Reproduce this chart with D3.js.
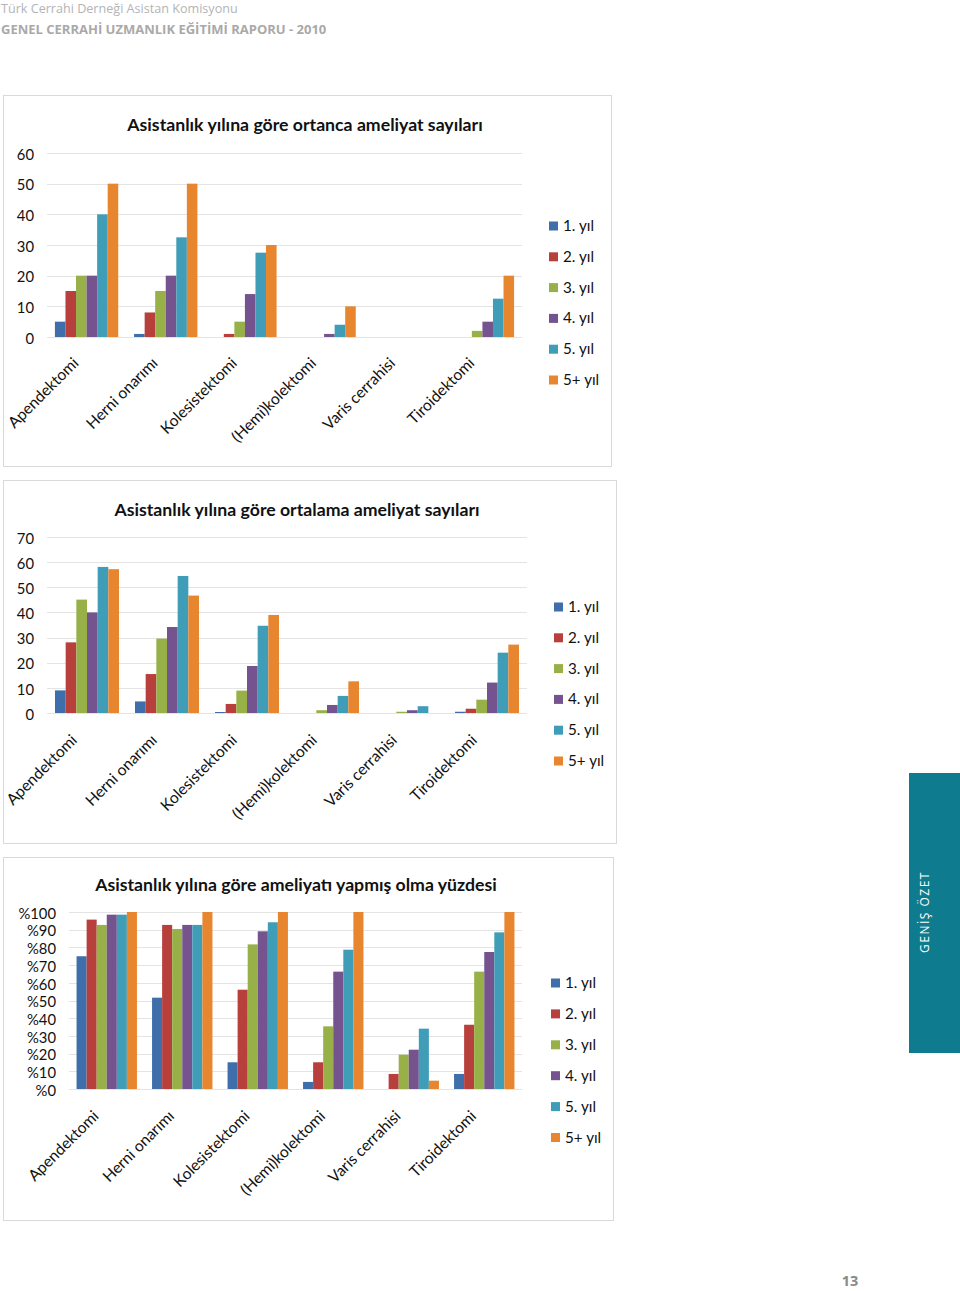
<!DOCTYPE html>
<html><head><meta charset="utf-8">
<script src="https://cdn.jsdelivr.net/npm/d3@7"></script>
<style>
html,body{margin:0;padding:0;background:#fff;}
svg{display:block;font-family:Lato, "Open Sans", sans-serif;}
</style></head>
<body>
<script>
const categories = ["Apendektomi","Herni onarımı","Kolesistektomi","(Hemi)kolektomi","Varis cerrahisi","Tiroidektomi"];
const years = ["1. yıl","2. yıl","3. yıl","4. yıl","5. yıl","5+ yıl"];
const colors = ["#3f6faa","#b8403c","#97b048","#74538f","#3f9db8","#e8862f"];

// rows = years, columns = categories
const medianValues = [
  [5, 1, 0, 0, 0, 0],
  [15, 8, 1, 0, 0, 0],
  [20, 15, 5, 0, 0, 2],
  [20, 20, 14, 1, 0, 5],
  [40, 32.5, 27.5, 4, 0, 12.5],
  [50, 50, 30, 10, 0, 20]
];
const meanValues = [
  [9, 4.6, 0.4, 0, 0, 0.5],
  [28.1, 15.5, 3.6, 0, 0, 1.7],
  [45.1, 29.6, 8.9, 1.1, 0.5, 5.3],
  [40, 34.2, 18.7, 3.2, 1.1, 12.1],
  [58.1, 54.5, 34.7, 6.8, 2.7, 24],
  [57.2, 46.7, 39, 12.6, 0, 27.2]
];
const percentValues = [
  [75, 51.6, 15.1, 4, 0, 8.5],
  [95.7, 92.7, 56.1, 15.1, 8.5, 36.3],
  [92.7, 90.4, 81.7, 35.4, 19.4, 66.3],
  [98.5, 92.7, 89.1, 66.3, 22.2, 77.4],
  [98.5, 92.7, 94.2, 78.7, 34.1, 88.5],
  [100, 100, 100, 100, 4.7, 100]
];
const medianTicks = [0,10,20,30,40,50,60];
const meanTicks = [0,10,20,30,40,50,60,70];
const percentTicks = [0,10,20,30,40,50,60,70,80,90,100];

const titles = [
  "Asistanlık yılına göre ortanca ameliyat sayıları",
  "Asistanlık yılına göre ortalama ameliyat sayıları",
  "Asistanlık yılına göre ameliyatı yapmış olma yüzdesi"
];

const W = 960, H = 1291;
const svg = d3.select("body").append("svg").attr("width", W).attr("height", H);

// header
svg.append("text").attr("x", 1).attr("y", 13).attr("font-family","'Open Sans',sans-serif")
  .attr("font-size", 12.6).attr("fill", "#b4b4b4").text("Türk Cerrahi Derneği Asistan Komisyonu");
svg.append("text").attr("x", 1).attr("y", 34).attr("font-family","'Open Sans',sans-serif")
  .attr("font-size", 13).attr("font-weight", "bold").attr("fill", "#a9a9a9").text("GENEL CERRAHİ UZMANLIK EĞİTİMİ RAPORU - 2010");

// sidebar
svg.append("rect").attr("x", 909).attr("y", 773).attr("width", 51).attr("height", 280).attr("fill", "#0f7b8e");
svg.append("text").attr("transform", "translate(929,912) rotate(-90)").attr("text-anchor","middle")
  .attr("font-family","'Open Sans',sans-serif").attr("font-size", 12).attr("letter-spacing", 1.5)
  .attr("fill", "#ffffff").text("GENİŞ ÖZET");

// page number
svg.append("text").attr("x", 850).attr("y", 1286).attr("text-anchor","middle")
  .attr("font-family","'Open Sans',sans-serif").attr("font-size", 14.5).attr("font-weight","bold")
  .attr("fill", "#8a8a8a").text("13");

function drawChart(cfg) {
  const g = svg.append("g");
  g.append("rect").attr("x", cfg.frame[0]+0.5).attr("y", cfg.frame[1]+0.5)
    .attr("width", cfg.frame[2]-cfg.frame[0]).attr("height", cfg.frame[3]-cfg.frame[1])
    .attr("fill", "#fff").attr("stroke", "#d9d9d9");
  g.append("text").attr("x", cfg.titleX).attr("y", cfg.titleY).attr("text-anchor","middle")
    .attr("font-size", 17.7).attr("font-weight","bold").attr("fill","#111").text(cfg.title);

  const x0 = d3.scaleBand().domain(categories).range([cfg.left, cfg.right]).paddingInner(cfg.pad).paddingOuter(cfg.pad/2);
  const x1 = d3.scaleBand().domain(years).range([0, x0.bandwidth()]);
  const y = d3.scaleLinear().domain([0, cfg.max]).range([cfg.bottom, cfg.top]);

  // gridlines
  g.append("g").selectAll("line").data(cfg.ticks).join("line")
    .attr("x1", cfg.left).attr("x2", cfg.right)
    .attr("y1", d => Math.round(y(d))+0.5).attr("y2", d => Math.round(y(d))+0.5)
    .attr("stroke", "#e4e4e4");

  // y axis labels
  const yAxis = d3.axisLeft(y).tickValues(cfg.ticks).tickSize(0).tickPadding(0).tickFormat(cfg.fmt);
  const ya = g.append("g").attr("transform", `translate(${cfg.labelRight},1.5)`).call(yAxis);
  ya.select(".domain").remove();
  ya.selectAll("text").attr("font-size", 14.8).attr("fill","#111").attr("font-family","Lato, sans-serif");

  // bars
  years.forEach((yr, i) => {
    g.append("g").attr("fill", colors[i]).selectAll("rect").data(cfg.values[i]).join("rect")
      .attr("x", (d, j) => x0(categories[j]) + x1(yr))
      .attr("width", x1.bandwidth())
      .attr("y", d => y(d))
      .attr("height", d => cfg.bottom - y(d));
  });

  // category labels
  g.append("g").selectAll("text").data(categories).join("text")
    .attr("transform", d => `translate(${x0(d) + x0.bandwidth()/2 + cfg.labDx},${cfg.bottom + cfg.labDy}) rotate(-45)`)
    .attr("text-anchor", "end").attr("font-size", 15.6).attr("fill","#111").text(d => d);

  // legend
  const lg = g.append("g");
  years.forEach((yr, i) => {
    const yy = cfg.legY + i * cfg.legStep;
    lg.append("rect").attr("x", cfg.legX).attr("y", yy - 9.5).attr("width", 9).attr("height", 9).attr("fill", colors[i]);
    lg.append("text").attr("x", cfg.legX + 14).attr("y", yy).attr("font-size", 15.2).attr("fill","#111").text(yr);
  });
}

drawChart({frame:[3,95,611,466], title:titles[0], titleX:305, titleY:131,
  left:47, right:522, top:153, bottom:337, max:60, ticks:medianTicks, fmt:d=>d,
  labelRight:34, pad:0.2, values:medianValues, labDx:-7, labDy:27, legX:549, legY:231, legStep:30.8});

drawChart({frame:[3,480,616,843], title:titles[1], titleX:297, titleY:516,
  left:47, right:527, top:537, bottom:713, max:70, ticks:meanTicks, fmt:d=>d,
  labelRight:34, pad:0.2, values:meanValues, labDx:-9, labDy:28, legX:554, legY:612, legStep:30.8});

drawChart({frame:[3,857,613,1220], title:titles[2], titleX:296, titleY:891,
  left:69, right:522, top:912, bottom:1089, max:100, ticks:percentTicks, fmt:d=>"%"+d,
  labelRight:56, pad:0.2, values:percentValues, labDx:-7, labDy:28, legX:551, legY:988, legStep:30.9});
</script>
</body></html>
